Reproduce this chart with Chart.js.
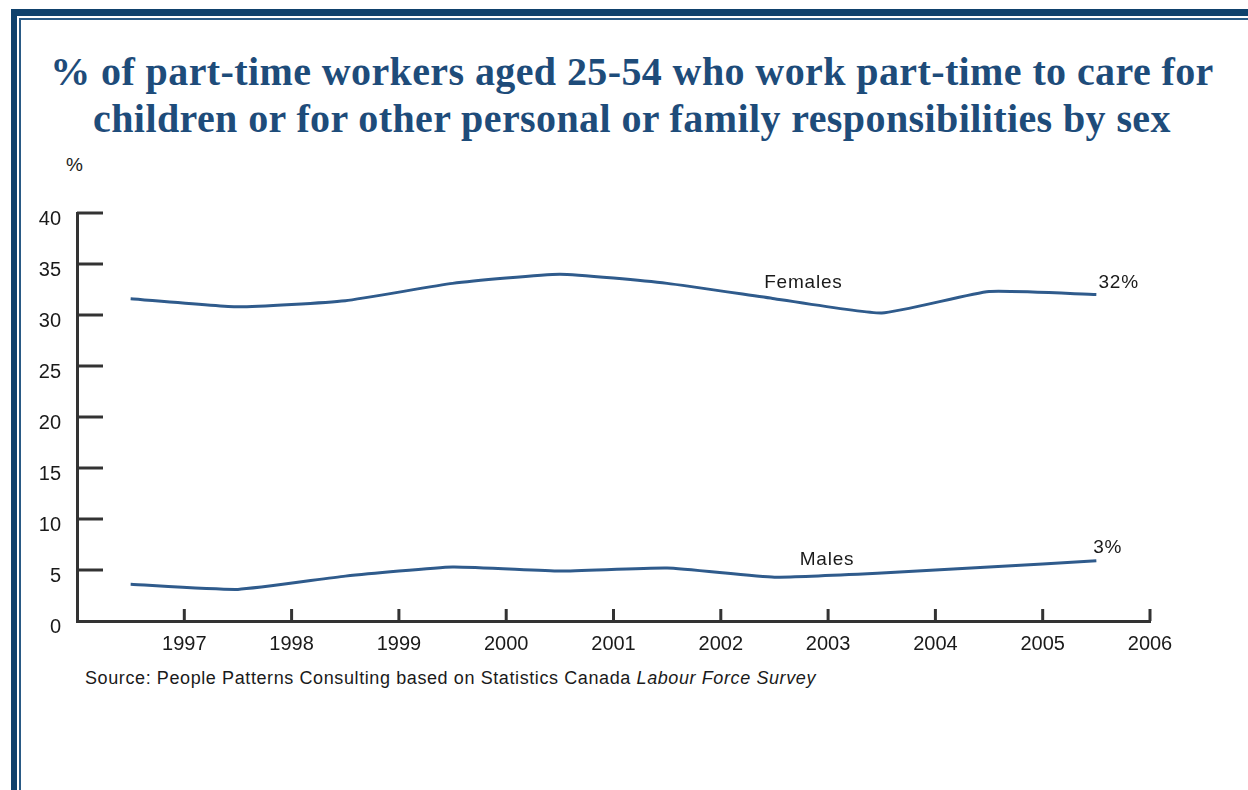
<!DOCTYPE html>
<html>
<head>
<meta charset="utf-8">
<script src="https://cdn.jsdelivr.net/npm/chart.js@4.4.0/dist/chart.umd.min.js"></script>
<style>
  html, body { margin: 0; padding: 0; background: #fff; }
  body { width: 1248px; height: 790px; position: relative; overflow: hidden; }
  .frame-outer { position: absolute; left: 11px; top: 9px; width: 1400px; height: 900px;
    border-top: 7px solid #0f416c; border-left: 6px solid #0f416c; }
  .frame-inner { position: absolute; left: 19px; top: 18px; width: 1400px; height: 900px;
    border-top: 2px solid #2a5a85; border-left: 2px solid #2a5a85; }
  .title { position: absolute; left: 0; width: 1264px; top: 48px; text-align: center;
    font-family: "Liberation Serif", "DejaVu Serif", serif; font-weight: bold;
    font-size: 40px; letter-spacing: 0.4px; line-height: 47px; color: #1e4c7a; }
  .unit { position: absolute; left: 66px; top: 154px; font-family: "Liberation Sans", Arial, sans-serif;
    font-size: 19px; color: #1a1a1a; }
  .source { position: absolute; left: 85px; top: 668px; font-family: "Liberation Sans", Arial, sans-serif;
    font-size: 18px; letter-spacing: 0.6px; color: #1a1a1a; }
  canvas { position: absolute; left: 0; top: 0; }
</style>
</head>
<body>
<div class="frame-outer"></div>
<div class="frame-inner"></div>
<div class="title">% of part-time workers aged 25-54 who work part-time to care for<br>children or for other personal or family responsibilities by sex</div>
<div class="unit">%</div>
<div class="source">Source: People Patterns Consulting based on Statistics Canada <i>Labour Force Survey</i></div>
<canvas id="chart" width="1248" height="790"></canvas>
<script>
// yearly values, plotted mid-year
const years = [1996.5, 1997.5, 1998.5, 1999.5, 2000.5, 2001.5, 2002.5, 2003.5, 2004.5, 2005.5];
const females = [31.6, 30.8, 31.4, 33.1, 34.0, 33.1, 31.6, 30.2, 32.3, 32];
const males = [3.6, 3.1, 4.4, 5.3, 4.9, 5.2, 4.3, 4.7, 5.3, 5.9];
const yearTicks = [1997, 1998, 1999, 2000, 2001, 2002, 2003, 2004, 2005, 2006];
const valueTicks = [0, 5, 10, 15, 20, 25, 30, 35, 40];

const lineColor = '#2f5b8c';
const axisColor = '#333';
const labelFont = '"Liberation Sans", Arial, sans-serif';

// text placed at data coordinates next to each line
const notes = [
    { text: 'Females', x: 2002.77, y: 33.2, align: 'center' },
    { text: '32%', x: 2005.52, y: 33.2, align: 'left' },
    { text: 'Males', x: 2002.99, y: 6.0, align: 'center' },
    { text: '3%', x: 2005.47, y: 7.2, align: 'left' }
];

function toPoints(vals) {
    return vals.map((v, i) => ({ x: years[i], y: v }));
}

// tick marks point into the plot area
const innerTicks = {
    id: 'innerTicks',
    afterDatasetsDraw(chart) {
        const { ctx, scales: { x, y } } = chart;
        ctx.save();
        ctx.strokeStyle = axisColor;
        ctx.lineWidth = 3;
        valueTicks.forEach(v => {
            if (v === 0) return;
            const py = y.getPixelForValue(v);
            ctx.beginPath();
            ctx.moveTo(x.left, py);
            ctx.lineTo(x.left + 26, py);
            ctx.stroke();
        });
        yearTicks.forEach(t => {
            const px = x.getPixelForValue(t);
            ctx.beginPath();
            ctx.moveTo(px, y.bottom);
            ctx.lineTo(px, y.bottom - 12);
            ctx.stroke();
        });
        ctx.font = '19px ' + labelFont;
        ctx.letterSpacing = '0.8px';
        ctx.fillStyle = '#1a1a1a';
        ctx.textBaseline = 'middle';
        notes.forEach(n => {
            ctx.textAlign = n.align;
            ctx.fillText(n.text, x.getPixelForValue(n.x), y.getPixelForValue(n.y));
        });
        ctx.restore();
    }
};

new Chart(document.getElementById('chart'), {
    type: 'line',
    data: {
        datasets: [
            { label: 'Females', data: toPoints(females), borderColor: lineColor, borderWidth: 3, pointRadius: 0, tension: 0.15 },
            { label: 'Males', data: toPoints(males), borderColor: lineColor, borderWidth: 3, pointRadius: 0, tension: 0.15 }
        ]
    },
    options: {
        responsive: false,
        animation: false,
        layout: { padding: { left: 0, right: 98, top: 213, bottom: 129 } },
        plugins: { legend: { display: false }, tooltip: { enabled: false } },
        scales: {
            x: {
                type: 'linear',
                min: 1996,
                max: 2006,
                afterBuildTicks: s => { s.ticks = yearTicks.map(v => ({ value: v })); },
                afterFit: s => { s.height = 40; },
                grid: { display: false, drawTicks: false },
                border: { display: true, color: axisColor, width: 3 },
                ticks: {
                    padding: 11,
                    color: '#1a1a1a',
                    font: { family: labelFont, size: 20 },
                    callback: v => String(v),
                    maxRotation: 0
                }
            },
            y: {
                min: 0,
                max: 40,
                afterBuildTicks: s => { s.ticks = valueTicks.map(v => ({ value: v })); },
                afterFit: s => { s.width = 77; },
                grid: { display: false, drawTicks: false },
                border: { display: true, color: axisColor, width: 3 },
                ticks: {
                    padding: 16,
                    labelOffset: 6,
                    color: '#1a1a1a',
                    font: { family: labelFont, size: 20 }
                }
            }
        }
    },
    plugins: [innerTicks]
});
</script>
</body>
</html>
